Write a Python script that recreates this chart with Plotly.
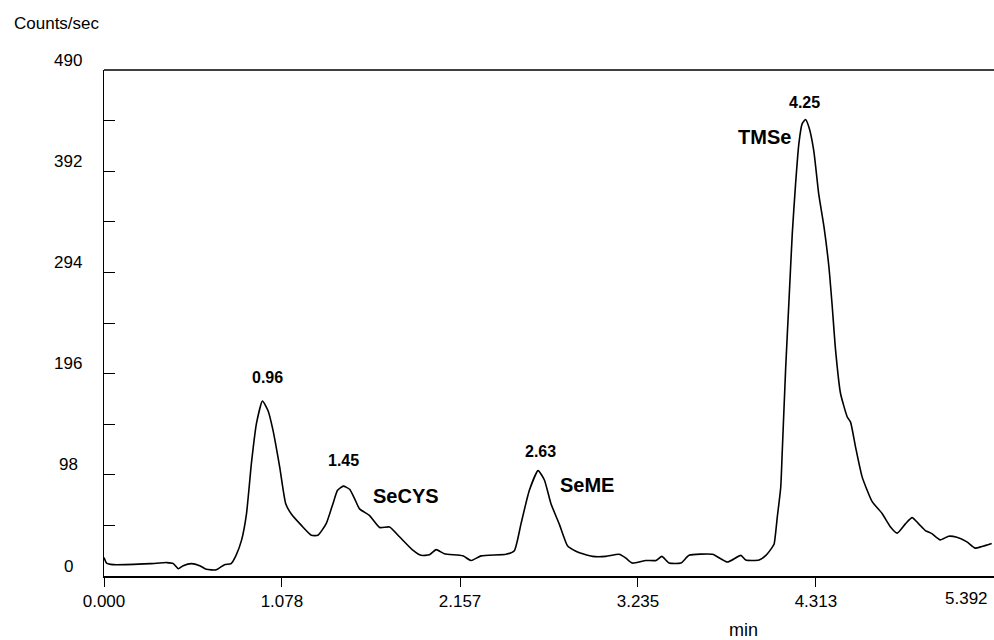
import plotly.graph_objects as go

# Chromatogram trace: retention time (min) and detector signal (counts/sec)
retention_min = [
    0.000, 0.016, 0.056, 0.28, 0.38, 0.42, 0.45, 0.48, 0.53, 0.58, 0.62, 0.68,
    0.73, 0.77, 0.80, 0.833, 0.863, 0.893, 0.924, 0.96, 0.994, 1.024, 1.065,
    1.101, 1.135, 1.196, 1.256, 1.296, 1.347, 1.387, 1.415, 1.45, 1.488, 1.518,
    1.548, 1.609, 1.67, 1.73, 1.79, 1.871, 1.921, 1.972, 2.012, 2.062, 2.174,
    2.224, 2.284, 2.436, 2.486, 2.527, 2.577, 2.63, 2.668, 2.708, 2.759, 2.809,
    2.859, 2.90, 2.96, 3.04, 3.12, 3.16, 3.20, 3.283, 3.344, 3.38, 3.424, 3.495,
    3.545, 3.686, 3.777, 3.858, 3.888, 3.969, 4.01, 4.049, 4.06, 4.079, 4.10,
    4.109, 4.13, 4.15, 4.17, 4.19, 4.21, 4.23, 4.25, 4.27, 4.30, 4.33, 4.362,
    4.392, 4.412, 4.432, 4.462, 4.503, 4.523, 4.553, 4.593, 4.654, 4.714, 4.765,
    4.805, 4.855, 4.896, 4.936, 4.976, 5.016, 5.066, 5.117, 5.167, 5.228, 5.278,
    5.318, 5.378,
]
counts_per_sec = [
    18, 12.5, 11, 12, 13, 12, 7, 10, 12, 10, 6.5, 6,
    11, 12, 20, 34.5, 60, 109, 148, 169.5, 160, 141, 105,
    70, 60, 49, 39.5, 39.5, 51, 70, 83, 87, 84, 75,
    65, 58.5, 47, 47.5, 38, 25, 20, 20.5, 25.5, 21.5, 19.5,
    15, 19.5, 21, 24.5, 51, 83, 102, 93, 70, 50, 29,
    24, 21.5, 19, 19, 21, 17.5, 12.5, 15, 15, 19, 12.5, 12.5,
    20, 21, 13.5, 20, 15.5, 15.5, 20, 28, 31, 57, 86,
    120, 202, 267, 332, 380, 419, 438, 442, 435, 412, 370, 338,
    299, 261, 219, 177, 154, 149, 125, 96, 72, 60.5, 47.5,
    41.5, 50.5, 56.5, 50.5, 44, 41, 35, 38.5, 37.5, 33, 27,
    28.5, 31.5,
]

# Axis ticks
x_ticks = [0.000, 1.078, 2.157, 3.235, 4.313, 5.392]
y_ticks_major = [0, 98, 196, 294, 392, 490]
y_ticks_all = [0, 49, 98, 147, 196, 245, 294, 343, 392, 441, 490]

# Peak labels: (retention time text, label x, label y)
peak_times = ["0.96", "1.45", "2.63", "4.25"]
peak_time_pos = [(0.992, 192), (1.452, 112), (2.647, 121), (4.244, 459)]
compound_names = ["SeCYS", "SeME", "TMSe"]
compound_pos = [(1.615, 77.5, "left"), (2.752, 88, "left"), (4.174, 425, "right")]

FONT = "Liberation Sans, Arial, Helvetica, sans-serif"

fig = go.Figure()
fig.add_trace(go.Scatter(
    x=retention_min, y=counts_per_sec, mode="lines",
    line=dict(color="black", width=1.6, shape="spline", smoothing=0.5),
    hoverinfo="x+y", showlegend=False,
))

fig.update_layout(
    width=994, height=640,
    margin=dict(l=104, r=0, t=70, b=64),
    paper_bgcolor="white", plot_bgcolor="white",
    font=dict(family=FONT, color="black", size=17),
    showlegend=False,
    xaxis=dict(
        range=[0, 5.392], showgrid=False, zeroline=False,
        showline=True, linecolor="black", linewidth=2,
        ticks="outside", ticklen=9, tickwidth=1, tickcolor="black",
        tickvals=x_ticks,
        ticktext=[f"{v:.3f}" for v in x_ticks[:-1]] + [""],
        tickfont=dict(family=FONT, size=17, color="black"),
    ),
    yaxis=dict(
        range=[0, 490], showgrid=False, zeroline=False,
        showline=True, linecolor="black", linewidth=1.3,
        ticks="inside", ticklen=11, tickwidth=1, tickcolor="black",
        tickvals=y_ticks_all, showticklabels=False,
    ),
)

# Top frame line
fig.add_shape(type="line", xref="paper", yref="paper", x0=0, x1=1, y0=1, y1=1,
              line=dict(color="black", width=1.3))

annotations = []
# y tick labels, centred to the left of the axis and raised above their ticks
for v in y_ticks_major:
    annotations.append(dict(
        x=-0.0399, xref="paper", y=v, yref="y", yshift=10,
        text=str(v), showarrow=False, xanchor="center", yanchor="middle",
        font=dict(family=FONT, size=17),
    ))
# last x tick label kept inside the figure edge
annotations.append(dict(
    x=0.9955, xref="paper", y=-0.0435, yref="paper",
    text=f"{x_ticks[-1]:.3f}", showarrow=False, xanchor="right", yanchor="middle",
    font=dict(family=FONT, size=17),
))
# axis titles
annotations.append(dict(
    x=-0.1037, xref="paper", y=1.0915, yref="paper", text="Counts/sec",
    showarrow=False, xanchor="left", yanchor="middle", font=dict(family=FONT, size=17),
))
annotations.append(dict(
    x=0.719, xref="paper", y=-0.106, yref="paper", text="min",
    showarrow=False, xanchor="center", yanchor="middle", font=dict(family=FONT, size=18),
))
# peak retention times
for txt, (px, py) in zip(peak_times, peak_time_pos):
    annotations.append(dict(
        x=px, y=py, xref="x", yref="y", text=f"<b>{txt}</b>", showarrow=False,
        xanchor="center", yanchor="middle", font=dict(family=FONT, size=16),
    ))
# compound names
for name, (px, py, anchor) in zip(compound_names, compound_pos):
    annotations.append(dict(
        x=px, y=py, xref="x", yref="y", text=f"<b>{name}</b>", showarrow=False,
        xanchor=anchor, yanchor="middle", font=dict(family=FONT, size=20),
    ))
fig.update_layout(annotations=annotations)

fig.write_html("out.html")
